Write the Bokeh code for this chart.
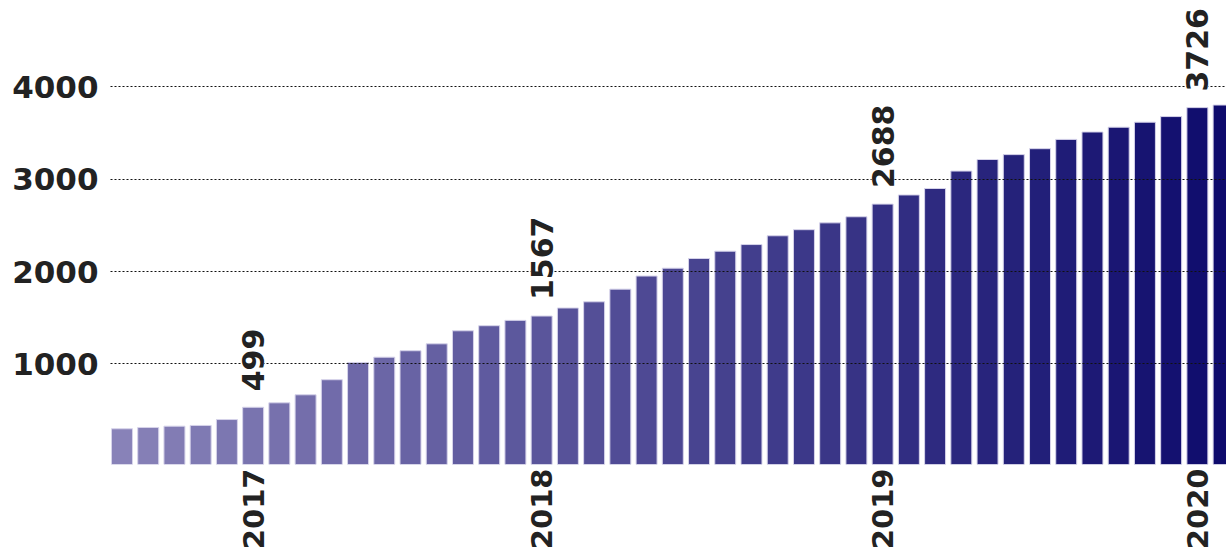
import math
from bokeh.plotting import figure
from bokeh.models import ColumnDataSource, FixedTicker, Label, Range1d
from bokeh.embed import file_html
from bokeh.resources import INLINE

# ---- data ----
bar_values = [298, 312, 326, 334, 398, 531, 579, 666, 829, 1016, 1073, 1143,
              1218, 1359, 1414, 1472, 1519, 1606, 1673, 1810, 1952, 2037, 2142,
              2221, 2293, 2388, 2454, 2528, 2594, 2731, 2830, 2900, 3089, 3214,
              3267, 3331, 3432, 3512, 3564, 3618, 3679, 3776, 3804]
year_labels = ["2017", "2018", "2019", "2020"]
year_bar_index = [5, 16, 29, 41]
callout_bar_index = [5, 16, 29, 41]
callout_texts = ["499", "1567", "2688", "3726"]
y_ticks = [1000, 2000, 3000, 4000]

# ---- style ----
FONT = "DejaVu Sans"
TXT = "#222222"
c0 = (0x88, 0x82, 0xb8)
c1 = (0x0e, 0x0b, 0x6c)
n = len(bar_values)
colors = []
for i in range(n):
    t = i / (n - 1)
    colors.append("#%02x%02x%02x" % tuple(round(a + (b - a) * t) for a, b in zip(c0, c1)))

y_start = -89
p = figure(width=1226, height=553, output_backend="svg", toolbar_location=None,
           x_range=Range1d(-0.438, 42.11), y_range=Range1d(y_start, 4936),
           min_border_left=110, min_border_right=0, min_border_top=0,
           min_border_bottom=89)
p.outline_line_color = None
p.background_fill_color = "white"
p.border_fill_color = "white"

src = ColumnDataSource(dict(x=list(range(n)), top=bar_values, color=colors))
p.vbar(x="x", top="top", bottom=y_start, width=0.8, source=src,
       fill_color="color", line_color="#d6d3ea", line_width=1)

# y axis
p.yaxis.ticker = FixedTicker(ticks=y_ticks)
p.yaxis.axis_line_color = None
p.yaxis.major_tick_line_color = None
p.yaxis.minor_tick_line_color = None
p.yaxis.major_tick_out = 0
p.yaxis.major_tick_in = 0
p.yaxis.major_label_standoff = 12
p.yaxis.major_label_text_font = FONT
p.yaxis.major_label_text_font_style = "bold"
p.yaxis.major_label_text_font_size = "31px"
p.yaxis.major_label_text_color = TXT

# x axis: year labels at the first bar of each year
p.xaxis.ticker = FixedTicker(ticks=year_bar_index)
p.xaxis.major_label_overrides = {i: s for i, s in zip(year_bar_index, year_labels)}
p.xaxis.major_label_orientation = math.pi / 2
p.xaxis.axis_line_color = None
p.xaxis.major_tick_line_color = None
p.xaxis.minor_tick_line_color = None
p.xaxis.major_tick_out = 0
p.xaxis.major_tick_in = 0
p.xaxis.major_label_standoff = 4
p.xaxis.major_label_text_font = FONT
p.xaxis.major_label_text_font_style = "bold"
p.xaxis.major_label_text_font_size = "29px"
p.xaxis.major_label_text_color = TXT

# grid
p.xgrid.visible = False
p.ygrid.ticker = FixedTicker(ticks=y_ticks)
p.ygrid.grid_line_color = "#111111"
p.ygrid.grid_line_width = 1
p.ygrid.grid_line_dash = "2 2"
p.ygrid.level = "guide"

# callouts
for i, t in zip(callout_bar_index, callout_texts):
    p.add_layout(Label(x=i, y=bar_values[i], text=t, angle=math.pi / 2,
                       text_align="left", text_baseline="middle", y_offset=16,
                       background_fill_color="white",
                       text_font=FONT, text_font_style="bold",
                       text_font_size="30px", text_color=TXT))

open("out.html", "w").write(file_html(p, INLINE))
